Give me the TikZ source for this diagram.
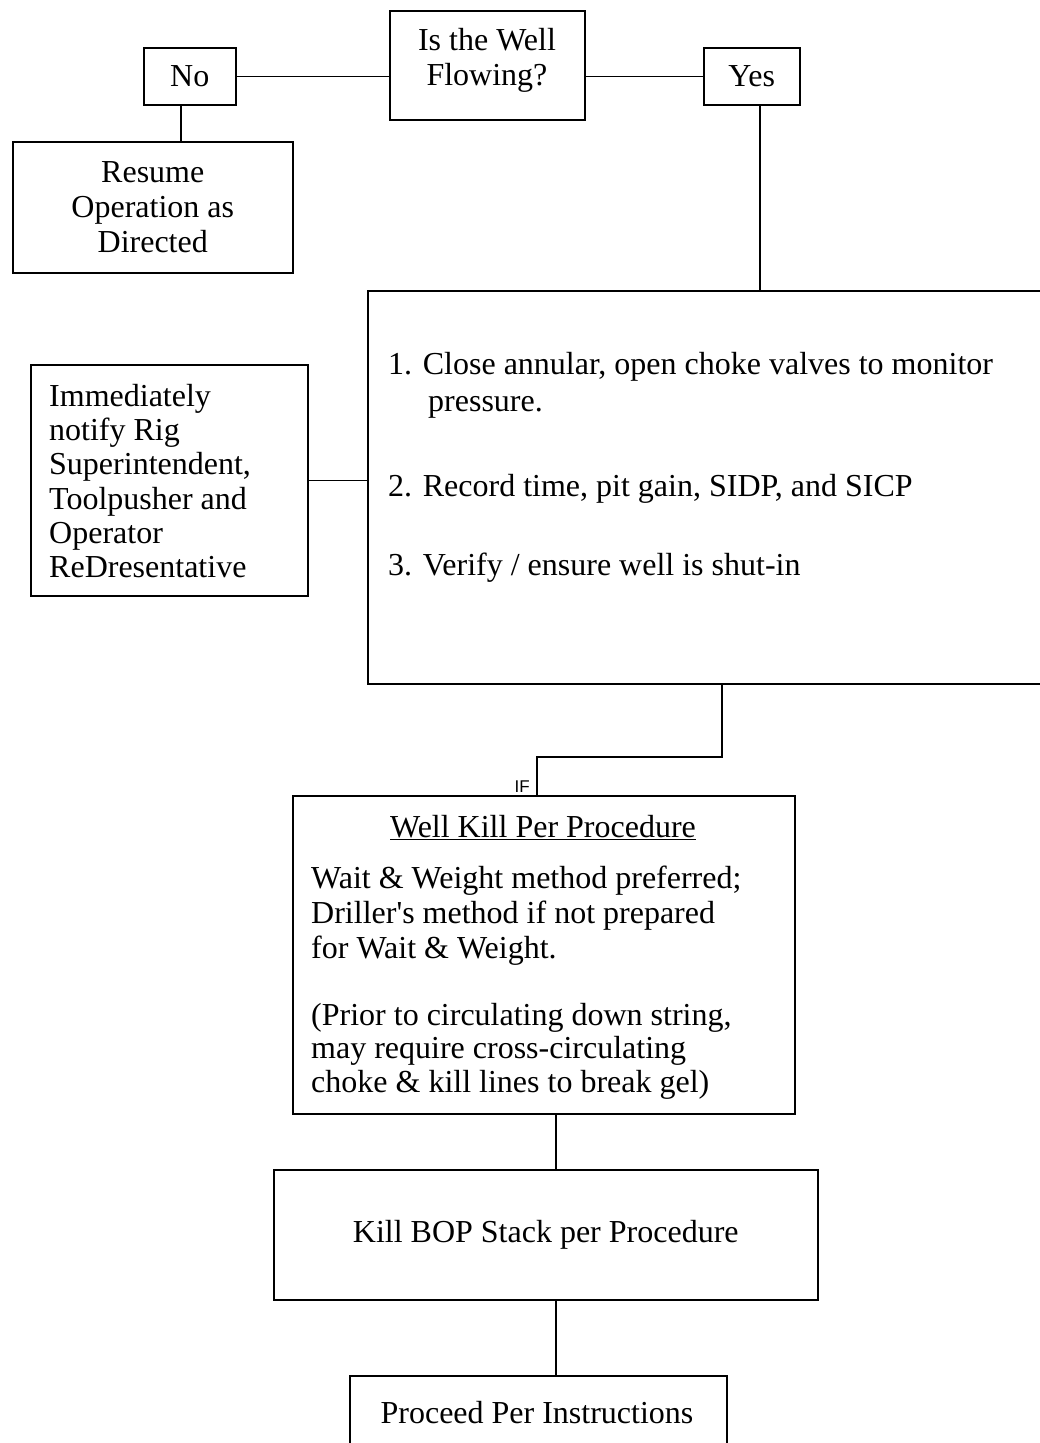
\documentclass[tikz,border=0pt]{standalone}
\usepackage{fontspec}
\setmainfont{Liberation Serif}
\setsansfont{Liberation Sans}
\usetikzlibrary{positioning, calc}

\begin{document}
\begin{tikzpicture}[
		x=1pt, y=-1pt,
		every node/.style={font=\fontsize{32}{35}\selectfont},
		box/.style={rectangle, draw, line width=1.5pt, inner sep=0pt, anchor=north west, align=center},
		note/.style={inner sep=0pt, anchor=north west, align=left},
		link/.style={line width=1.5pt}
		]
		\useasboundingbox (0,0) rectangle (1040,1443);
		\clip (0,0) rectangle (1040,1443);
		
		% Nodes
		\node[box, minimum width=195pt, minimum height=109pt] (flowing) at (389,10) {};
		\node[box, minimum width=92pt, minimum height=57pt] (no) at (143,47) {No};
		\node[box, minimum width=96pt, minimum height=57pt] (yes) at (703,47) {Yes};
		\node[box, minimum width=280pt, minimum height=131pt] (resume) at (12,141) {Resume\\Operation as\\Directed};
		\node[box, minimum width=740pt, minimum height=393pt] (actions) at (367,290) {};
		\node[box, minimum width=277pt, minimum height=231pt] (notify) at (30,364) {};
		\node[box, minimum width=502pt, minimum height=318pt] (wellkill) at (292,795) {};
		\node[box, minimum width=544pt, minimum height=130pt] (bopkill) at (273,1169) {Kill BOP Stack per Procedure};
		\node[box, minimum width=377pt, minimum height=120pt] (proceed) at (349,1375) {};
		
		% Texts inside the boxes
		\node[inner sep=0pt, align=center] (flowingtext) at (487,60) {Is the Well\\Flowing?};
		\node[note, font=\fontsize{32}{34.2}\selectfont] (notifytext) at (49,384) {Immediately\\notify Rig\\Superintendent,\\Toolpusher and\\Operator\\ReDresentative};
		\node[note, font=\fontsize{32}{37}\selectfont] (step1) at (388,352) {1. Close annular, open choke valves to monitor\\\hspace*{40pt}pressure.};
		\node[note] (step2) at (388,474) {2. Record time, pit gain, SIDP, and SICP};
		\node[note] (step3) at (388,553) {3. Verify / ensure well is shut-in};
		\node[anchor=base, inner sep=0pt] (killtitle) at (543,837) {\underline{Well Kill Per Procedure}};
		\node[note] (killtext) at (311,866) {Wait \& Weight method preferred;\\Driller\textquotesingle s method if not prepared\\for Wait \& Weight.};
		\node[note, font=\fontsize{32}{33.5}\selectfont] (killnote) at (311,1003) {(Prior to circulating down string,\\may require cross-circulating\\choke \& kill lines to break gel)};
		\node[anchor=base, inner sep=0pt] (proceedtext) at (537,1423) {Proceed Per Instructions};
		\node[anchor=base east, inner sep=0pt, font=\sffamily\fontsize{17}{17}\selectfont] (iflabel) at (530,792) {IF};
		
		% Connectors
		\coordinate (turn) at (722,757);
		\draw[link] (no.east) -- (no.east -| flowing.west);
		\draw[link] (yes.west -| flowing.east) -- (yes.west);
		\draw[link] ([xshift=-9pt]no.south) -- ([xshift=-9pt]no.south |- resume.north);
		\draw[link] ([xshift=8pt]yes.south) -- ([xshift=8pt]yes.south |- actions.north);
		\draw[link] (notify.east) -- (notify.east -| actions.west);
		\draw[link] (turn |- actions.south) -- (turn) -| ([xshift=-7pt]wellkill.north);
		\draw[link] ([xshift=12pt]wellkill.south) -- ([xshift=12pt]wellkill.south |- bopkill.north);
		\draw[link] ([xshift=10pt]bopkill.south) -- ([xshift=10pt]bopkill.south |- proceed.north);
		
	\end{tikzpicture}
\end{document}
